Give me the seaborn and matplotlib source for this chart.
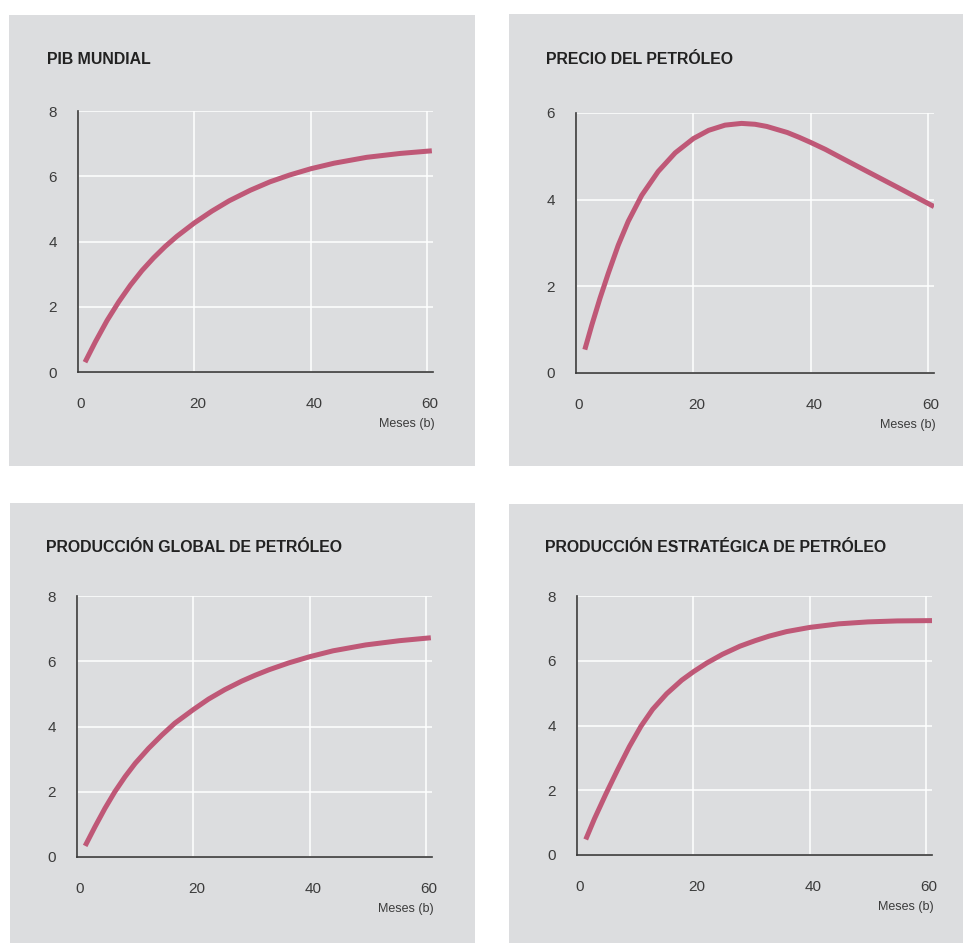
import matplotlib
matplotlib.use("Agg")
import matplotlib.pyplot as plt
from matplotlib.patches import Rectangle
from matplotlib.transforms import ScaledTranslation
import pandas as pd
import seaborn as sns

# valores (meses, indice)
meses_pib = [1.2, 3, 5, 7, 9, 11, 13, 15, 17, 20, 23, 26, 29.6, 33, 36.4, 40, 44, 49.6, 55.4, 60.8]
pib_mundial = [0.3, 0.93, 1.58, 2.15, 2.66, 3.11, 3.5, 3.85, 4.16, 4.57, 4.93, 5.25, 5.57, 5.83, 6.04, 6.23,
               6.4, 6.58, 6.7, 6.78]

meses_precio = [1.5, 2.7, 4.1, 5.5, 7.2, 8.9, 11.2, 14, 16.9, 20, 22.6, 25.4, 28.2, 30.5, 32.5, 36, 38, 40,
                42.5, 45, 49.5, 55, 61]
precio_petroleo = [0.54, 1.11, 1.73, 2.3, 2.95, 3.5, 4.1, 4.65, 5.08, 5.41, 5.6, 5.72, 5.76, 5.74, 5.69,
                   5.55, 5.44, 5.32, 5.16, 4.98, 4.66, 4.27, 3.84]

meses_global = [1.4, 3.1, 4.8, 6.5, 8.25, 10, 12.3, 14.6, 16.8, 20, 22.6, 25.4, 28.3, 30.6, 33, 36.4, 40,
                44, 49.6, 55.4, 60.8]
produccion_global = [0.34, 0.93, 1.49, 2.0, 2.46, 2.87, 3.33, 3.74, 4.1, 4.52, 4.84, 5.13, 5.39, 5.57, 5.74,
                     5.95, 6.14, 6.32, 6.5, 6.63, 6.72]

meses_estrat = [1.5, 3, 5, 7, 9, 11, 13, 15.4, 18, 20, 22.3, 25, 28, 30.6, 33, 36, 40, 45, 50, 55, 61]
produccion_estrat = [0.48, 1.12, 1.9, 2.64, 3.35, 3.98, 4.5, 4.98, 5.4, 5.66, 5.93, 6.2, 6.45, 6.62, 6.76,
                     6.9, 7.03, 7.14, 7.2, 7.23, 7.24]

titulos = ["PIB MUNDIAL", "PRECIO DEL PETRÓLEO",
           "PRODUCCIÓN GLOBAL DE PETRÓLEO", "PRODUCCIÓN ESTRATÉGICA DE PETRÓLEO"]
x_ticks = [0, 20, 40, 60]
etiqueta_x = "Meses (b)"

gris = "#dcdddf"
rojo = "#bf5877"

sns.set_theme(style="darkgrid", rc={
    "axes.facecolor": gris,
    "grid.color": "white",
    "grid.linewidth": 1.1,
    "axes.edgecolor": "#3a3a3a",
})
plt.rcParams["font.family"] = ["Liberation Sans", "DejaVu Sans"]

W, H = 963, 943
fig = plt.figure(figsize=(W / 100, H / 100), dpi=100)
fig.patch.set_facecolor("white")

# cajas en pixeles: panel (x0, y0, x1, y1), ejes (izq, arriba, der, abajo), titulo (x, y)
paneles = [
    dict(panel=(9, 15, 475, 466), ejes=(78, 111, 433, 372), titulo=(47, 60)),
    dict(panel=(509, 14, 963, 466), ejes=(576, 113, 934, 373), titulo=(546, 59)),
    dict(panel=(10, 503, 475, 943), ejes=(77, 596, 432, 857), titulo=(46, 548)),
    dict(panel=(509, 504, 963, 943), ejes=(577, 596, 932, 855), titulo=(545, 547)),
]
series = [
    (meses_pib, pib_mundial, 8),
    (meses_precio, precio_petroleo, 6),
    (meses_global, produccion_global, 8),
    (meses_estrat, produccion_estrat, 8),
]

desplaza = ScaledTranslation(3 / 100, 0, fig.dpi_scale_trans)

for cfg, (mx, vals, ymax), titulo in zip(paneles, series, titulos):
    px0, py0, px1, py1 = cfg["panel"]
    fig.patches.append(Rectangle((px0 / W, 1 - py1 / H), (px1 - px0) / W, (py1 - py0) / H,
                                 transform=fig.transFigure, facecolor=gris, edgecolor="none", zorder=-5))
    l, t, r, b = cfg["ejes"]
    ax = fig.add_axes([l / W, 1 - b / H, (r - l) / W, (b - t) / H])
    ax.set_zorder(1)
    df = pd.DataFrame({"mes": mx, "valor": vals})
    sns.lineplot(data=df, x="mes", y="valor", ax=ax, color=rojo, linewidth=3.6,
                 solid_capstyle="butt", solid_joinstyle="round")
    ax.set_xlim(0, 61)
    ax.set_ylim(0, ymax)
    ax.set_xticks(x_ticks)
    ax.set_yticks(list(range(0, ymax + 1, 2)))
    ax.set_xlabel("")
    ax.set_ylabel("")
    for s in ["top", "right"]:
        ax.spines[s].set_visible(False)
    for s in ["left", "bottom"]:
        ax.spines[s].set_visible(True)
        ax.spines[s].set_linewidth(1.2)
        ax.spines[s].set_color("#3a3a3a")
    ax.tick_params(axis="y", length=0, pad=15, labelsize=11, labelcolor="#3c3c3c")
    ax.tick_params(axis="x", length=0, pad=18, labelsize=11, labelcolor="#3c3c3c")
    for lab in ax.get_xticklabels():
        lab.set_transform(lab.get_transform() + desplaza)
    ax.annotate(etiqueta_x, xy=(1, 0), xycoords="axes fraction", xytext=(2, -52),
                textcoords="offset pixels", ha="right", va="center", fontsize=9,
                color="#3c3c3c")
    tx, ty = cfg["titulo"]
    fig.text(tx / W, 1 - ty / H, titulo, ha="left", va="center", fontsize=11.4,
             fontweight="bold", color="#222222")

fig.savefig("out.png", dpi=100, facecolor="white")
